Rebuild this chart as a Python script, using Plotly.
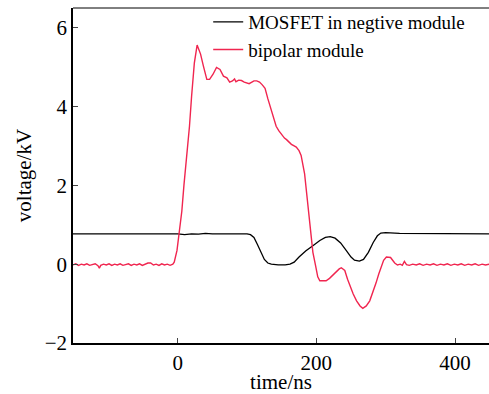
import plotly.graph_objects as go

# MOSFET in negtive module (black)
mos_t = [-151, -140, -120, -100, -80, -60, -40, -20, 0, 10, 20, 30, 40, 50, 60, 70, 80, 90, 100,
         105, 110, 115, 120, 125, 130, 135, 145, 155, 162, 168, 175, 185, 195, 205, 213, 220, 227,
         235, 243, 250, 255, 262, 268, 275, 282, 288, 293, 300, 320, 340, 360, 380, 400, 420, 450]
mos_v = [0.77, 0.77, 0.76, 0.77, 0.76, 0.77, 0.76, 0.77, 0.77, 0.75, 0.77, 0.76, 0.78, 0.77, 0.77, 0.78, 0.77, 0.77, 0.77,
         0.75, 0.68, 0.50, 0.30, 0.12, 0.03, 0.00, -0.02, -0.02, 0.00, 0.05, 0.18, 0.34, 0.47, 0.60, 0.68, 0.70, 0.66,
         0.54, 0.35, 0.18, 0.10, 0.08, 0.12, 0.30, 0.55, 0.72, 0.79, 0.80, 0.78, 0.78, 0.77, 0.77, 0.78, 0.77, 0.77]

# bipolar module (red)
bip_t = [-151, -147, -143, -139, -135, -131, -127, -123, -119, -115, -113, -111, -107, -103, -99, -95, -91, -87,
         -83, -79, -75, -71, -67, -63, -59, -55, -51, -47, -43, -39, -35, -31, -27, -23, -19, -15, -11, -7,
         -5, -1, 2, 6, 9, 13, 17, 20, 24, 28, 33, 37, 42, 46, 51, 56, 61, 66, 71, 75, 79, 82, 84, 88, 92,
         96, 99, 103, 107, 110, 114, 118, 122, 126, 130, 135, 139, 142, 146, 150, 154, 157, 161, 164, 168,
         171, 175, 178, 183, 187, 190, 193, 195, 199, 202, 205, 210, 214, 219, 224, 229, 233, 236, 239, 241,
         245, 248, 253, 258, 263, 267, 272, 277, 282, 286, 290, 294, 297, 301, 304, 307, 310, 313, 317, 321,
         324, 327, 330, 334, 339, 344, 349, 354, 359, 364, 369, 374, 379, 384, 389, 394, 399, 404, 409, 414,
         419, 424, 429, 434, 439, 444, 450]
bip_v = [-0.02, 0.01, -0.03, 0.00, -0.02, 0.01, -0.03, -0.01, 0.01, -0.04, -0.10, -0.03, 0.00, -0.02, 0.01, -0.03, 0.00, -0.02,
         0.01, -0.03, -0.01, 0.01, -0.03, 0.00, -0.02, 0.01, -0.03, 0.00, 0.03, 0.03, -0.02, 0.00, -0.03, 0.01, -0.02, 0.00, -0.03, 0.00,
         0.05, 0.35, 0.75, 1.35, 2.00, 2.70, 3.50, 4.25, 5.10, 5.56, 5.33, 5.03, 4.69, 4.69, 4.82, 4.99, 4.94, 4.77, 4.73, 4.62, 4.65, 4.70, 4.63, 4.67, 4.66,
         4.62, 4.60, 4.58, 4.62, 4.65, 4.65, 4.62, 4.55, 4.46, 4.20, 3.88, 3.66, 3.50, 3.38, 3.28, 3.20, 3.16, 3.08, 3.04, 3.00,
         2.97, 2.88, 2.76, 2.30, 1.60, 1.15, 0.60, 0.30, -0.05, -0.32, -0.42, -0.42, -0.42, -0.36, -0.27, -0.20, -0.12, -0.09, -0.12, -0.16,
         -0.38, -0.53, -0.75, -0.93, -1.06, -1.12, -1.06, -0.93, -0.70, -0.48, -0.25, -0.04, 0.10, 0.18, 0.18, 0.17, 0.10, 0.03, -0.02, 0.00,
         -0.03, 0.07, -0.01, -0.03, 0.00, -0.02, 0.01, -0.03, 0.00, -0.02, 0.01, -0.03, 0.00, -0.02, 0.01, -0.03, 0.00, -0.02, 0.01, -0.03,
         0.00, -0.02, 0.01, -0.03, 0.00, -0.02, 0.00]

x_ticks = [0, 200, 400]
y_ticks = [-2, 0, 2, 4, 6]

font = "Liberation Serif, Times New Roman, serif"

fig = go.Figure()
fig.add_trace(go.Scatter(x=mos_t, y=mos_v, mode="lines", name="MOSFET in negtive module",
                         line=dict(color="#000000", width=1.3)))
fig.add_trace(go.Scatter(x=bip_t, y=bip_v, mode="lines", name="bipolar module",
                         line=dict(color="#f0254f", width=1.4)))

fig.update_layout(
    width=489, height=394,
    margin=dict(l=73, r=0, t=8, b=51),
    paper_bgcolor="white", plot_bgcolor="white",
    font=dict(family=font, size=21, color="black"),
    showlegend=True,
    legend=dict(x=0.325, y=1.015, xanchor="left", yanchor="top", bgcolor="rgba(0,0,0,0)",
                font=dict(family=font, size=19), tracegroupgap=0, itemwidth=30),
    xaxis=dict(range=[-151, 449], tickvals=x_ticks, ticks="inside", ticklen=5, tickwidth=1,
               showline=True, linecolor="black", linewidth=1.5, showgrid=False, zeroline=False,
               tickfont=dict(size=21),
               title=dict(text="time/ns", standoff=1, font=dict(size=21))),
    yaxis=dict(range=[-2, 6.5], tickvals=y_ticks, ticks="inside", ticklen=5, tickwidth=1,
               showline=True, linecolor="black", linewidth=1.5, showgrid=False, zeroline=False,
               tickfont=dict(size=21),
               title=dict(text="voltage/kV", standoff=7, font=dict(size=21))),
    shapes=[dict(type="line", xref="paper", yref="paper", x0=0, x1=1, y0=1, y1=1,
                 line=dict(color="black", width=1))],
)

fig.write_html("out.html")
